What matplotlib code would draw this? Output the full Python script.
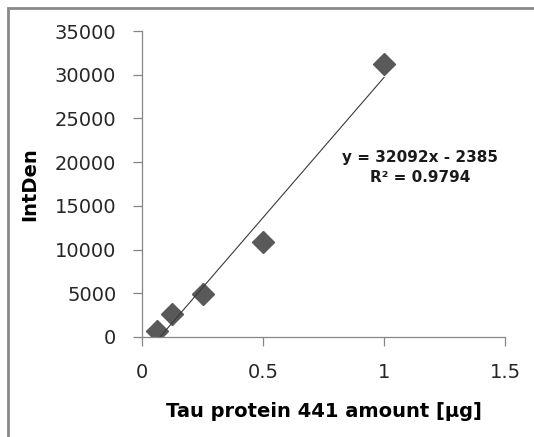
import matplotlib
matplotlib.use("Agg")
import matplotlib.pyplot as plt
import numpy as np
from matplotlib.patches import Rectangle

# data
amount_ug = [0.0625, 0.125, 0.25, 0.5, 1.0]
intden = [700, 2630, 4920, 10870, 31230]
fit_slope = 32092
fit_intercept = -2385
fit_r2 = 0.9794

x_ticks = [0, 0.5, 1, 1.5]
y_ticks = [0, 5000, 10000, 15000, 20000, 25000, 30000, 35000]

plt.rcParams["font.family"] = ["DejaVu Sans"]

fig = plt.figure(figsize=(5.34, 4.37), dpi=100)
ax = fig.add_axes([0.266, 0.229, 0.680, 0.700])

axis_grey = "#868686"

# points
ax.plot(amount_ug, intden, linestyle="none", marker="D", markersize=11,
        color="#595959", markeredgecolor="#595959", zorder=2)

# linear trendline over the data range
xs = np.array([min(amount_ug), max(amount_ug)])
ax.plot(xs, fit_slope * xs + fit_intercept, color="#3a3a3a", lw=0.8, zorder=3)

ax.text(1.15, 19400, "y = %dx - %d\nR² = %.4f" % (fit_slope, -fit_intercept, fit_r2),
        ha="center", va="center", fontsize=11, fontweight="bold",
        linespacing=1.45, color="#1a1a1a")

ax.set_xlim(0, 1.5)
ax.set_ylim(0, 35000)
ax.set_xticks(x_ticks)
ax.set_xticklabels(["0", "0.5", "1", "1.5"])
ax.set_yticks(y_ticks)

for side in ["top", "right"]:
    ax.spines[side].set_visible(False)
for side in ["left", "bottom"]:
    ax.spines[side].set_color(axis_grey)
    ax.spines[side].set_linewidth(0.9)

ax.tick_params(axis="both", direction="out", length=6.5, width=0.9,
               color=axis_grey, labelsize=14, labelcolor="#262626")
ax.tick_params(axis="x", pad=12.5)
ax.tick_params(axis="y", pad=12)

ax.set_xlabel("Tau protein 441 amount [µg]", fontsize=14, fontweight="bold",
              labelpad=14)
ax.set_ylabel("IntDen", fontsize=14, fontweight="bold", labelpad=11)

# chart area frame (cut off at right and bottom)
fig.patches.append(Rectangle((8 / 534, -0.1), 1.2, 1 - 8 / 437 + 0.1,
                             transform=fig.transFigure, fill=False,
                             edgecolor="#898989", lw=2, zorder=0))

fig.savefig("out.png", dpi=100)
